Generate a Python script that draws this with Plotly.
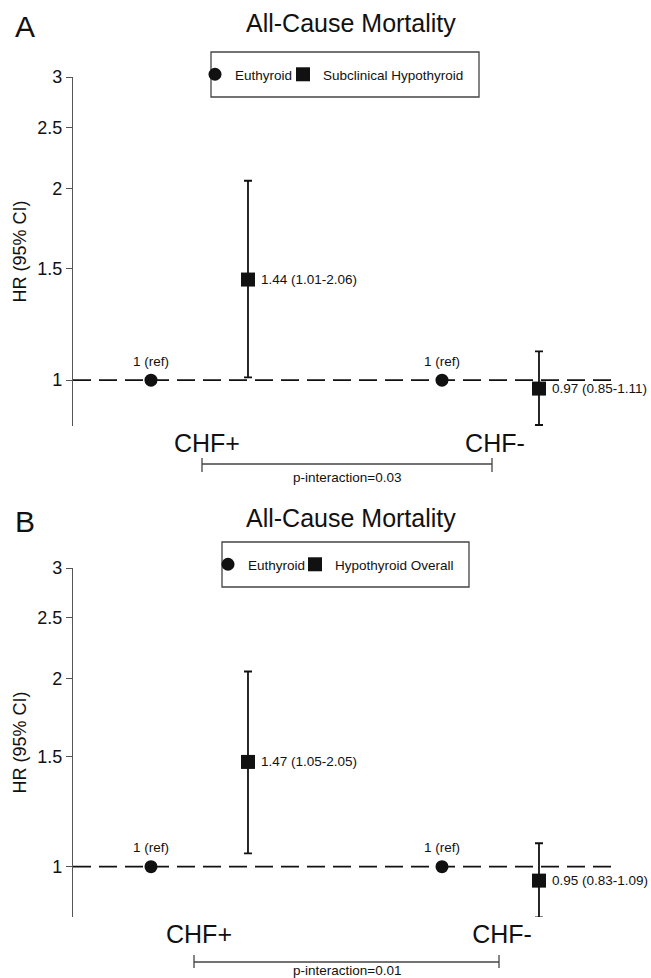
import math
import plotly.graph_objects as go

# ---------------- data ----------------
groups = ["CHF+", "CHF-"]
ref_label = "Euthyroid"
series_a = "Subclinical Hypothyroid"
series_b = "Hypothyroid Overall"
ref_hr = [1, 1]
a_hr = [1.44, 0.97]
a_lo = [1.01, 0.85]
a_hi = [2.06, 1.11]
b_hr = [1.47, 0.95]
b_lo = [1.05, 0.83]
b_hi = [2.05, 1.09]
p_interaction = ["0.03", "0.01"]
y_ticks = [1, 1.5, 2, 2.5, 3]
y_ticktext = ["1", "1.5", "2", "2.5", "3"]
panel_titles = ["All-Cause Mortality", "All-Cause Mortality"]
panel_letters = ["A", "B"]

W, H = 651, 978
FONT = "Liberation Sans, Arial, Helvetica, sans-serif"
INK = "#111111"


def px_x(p):
    return p / W


def px_y(p):
    return 1 - p / H


fig = go.Figure()

# x positions from category index
x_ref = [i * 3 + 1 for i in range(len(groups))]
x_trt = [i * 3 + 2 for i in range(len(groups))]

panels = [
    dict(name=series_a, hr=a_hr, lo=a_lo, hi=a_hi, xa="x", ya="y",
         legends=("legend", "legend3"), leg_left=(195, 283),
         top=77, bottom=426, ymin=0.847, tick=[1.577, 4.546],
         title_y=23, legend_box=(211, 52, 479, 97), bracket=(202, 492, 464, 458, 472), p_y=477),
    dict(name=series_b, hr=b_hr, lo=b_lo, hi=b_hi, xa="x2", ya="y2",
         legends=("legend2", "legend4"), leg_left=(208, 295),
         top=568, bottom=917, ymin=0.831, tick=[1.495, 4.619],
         title_y=518, legend_box=(222, 542, 469, 587), bracket=(194, 499, 962, 955, 968), p_y=970.5),
]

annotations = []
shapes = []
layout_extra = {}

for k, P in enumerate(panels):
    # reference (euthyroid) markers
    fig.add_trace(go.Scatter(
        x=x_ref, y=ref_hr, mode="markers", name=ref_label,
        marker=dict(symbol="circle", size=13, color=INK),
        xaxis=P["xa"], yaxis=P["ya"], legend=P["legends"][0], cliponaxis=False,
        hoverinfo="skip",
    ))
    # hypothyroid markers with CI
    fig.add_trace(go.Scatter(
        x=x_trt, y=P["hr"], mode="markers", name=P["name"],
        marker=dict(symbol="square", size=14, color=INK),
        error_y=dict(type="data", symmetric=False,
                     array=[h - v for h, v in zip(P["hi"], P["hr"])],
                     arrayminus=[v - l for v, l in zip(P["hr"], P["lo"])],
                     color=INK, thickness=1.8, width=4),
        xaxis=P["xa"], yaxis=P["ya"], legend=P["legends"][1], cliponaxis=False,
        hoverinfo="skip",
    ))

    # point labels
    for xr, r in zip(x_ref, ref_hr):
        annotations.append(dict(x=xr, y=math.log10(r), xref=P["xa"], yref=P["ya"],
                                text=f"{r:g} (ref)", showarrow=False, yshift=19,
                                font=dict(size=13.5, color=INK, family=FONT)))
    for xt, v, l, h in zip(x_trt, P["hr"], P["lo"], P["hi"]):
        annotations.append(dict(x=xt, y=math.log10(v), xref=P["xa"], yref=P["ya"],
                                text=f"{v:.2f} ({l:.2f}-{h:.2f})", showarrow=False,
                                xanchor="left", xshift=11,
                                font=dict(size=13.5, color=INK, family=FONT)))

    # reference line at HR = 1
    shapes.append(dict(type="line", xref=f"{P['xa']} domain", yref=P["ya"],
                       x0=0, x1=1, y0=1, y1=1,
                       line=dict(color=INK, width=1.8, dash="18px,8px")))

    # legend box
    bx0, by0, bx1, by1 = P["legend_box"]
    shapes.append(dict(type="rect", xref="paper", yref="paper",
                       x0=px_x(bx0), x1=px_x(bx1), y0=px_y(by1), y1=px_y(by0),
                       line=dict(color="#444444", width=1.3), fillcolor="rgba(0,0,0,0)"))

    # p-interaction bracket
    lx0, lx1, ly, ty0, ty1 = P["bracket"]
    for seg in [(lx0, ly, lx1, ly), (lx0, ty0, lx0, ty1), (lx1, ty0, lx1, ty1)]:
        shapes.append(dict(type="line", xref="paper", yref="paper",
                           x0=px_x(seg[0]), y0=px_y(seg[1]), x1=px_x(seg[2]), y1=px_y(seg[3]),
                           line=dict(color="#444444", width=1.3)))
    annotations.append(dict(x=px_x((lx0 + lx1) / 2), y=px_y(P["p_y"]), xref="paper", yref="paper",
                            text=f"p-interaction={p_interaction[k]}", showarrow=False,
                            xanchor="center", yanchor="middle",
                            font=dict(size=13.5, color=INK, family=FONT)))

    # panel title and letter
    annotations.append(dict(x=px_x(351), y=px_y(P["title_y"]), xref="paper", yref="paper",
                            text=panel_titles[k], showarrow=False, xanchor="center", yanchor="middle",
                            font=dict(size=25, color=INK, family=FONT)))
    annotations.append(dict(x=px_x(25), y=px_y(P["title_y"] + 3), xref="paper", yref="paper",
                            text=panel_letters[k], showarrow=False, xanchor="center", yanchor="middle",
                            font=dict(size=30, color=INK, family=FONT)))

    suffix = "" if k == 0 else "2"
    layout_extra["xaxis" + suffix] = dict(
        domain=[px_x(73), px_x(613)], range=[0.196, 5.763], automargin=False,
        anchor="y" + suffix, showline=False, showgrid=False, zeroline=False,
        ticks="", tickvals=P["tick"], ticktext=groups,
        tickfont=dict(size=25, color=INK, family=FONT), fixedrange=True,
    )
    layout_extra["yaxis" + suffix] = dict(
        domain=[px_y(P["bottom"]), px_y(P["top"])], type="log", automargin=False,
        range=[math.log10(P["ymin"]), math.log10(3)],
        anchor="x" + suffix, showline=True, linecolor="#555555", linewidth=1.3,
        showgrid=False, zeroline=False, ticks="outside", ticklen=6, tickwidth=1.3,
        tickcolor="#555555", tickvals=y_ticks, ticktext=y_ticktext,
        tickfont=dict(size=18, color=INK, family=FONT), fixedrange=True,
        title=dict(text="HR (95% CI)", font=dict(size=18, color=INK, family=FONT), standoff=5),
    )

    by_c = (by0 + by1) / 2
    for lg, lx in zip(P["legends"], P["leg_left"]):
        layout_extra[lg] = dict(
            orientation="h", x=px_x(lx), y=px_y(by_c), xanchor="left", yanchor="middle",
            bgcolor="rgba(0,0,0,0)", borderwidth=0,
            font=dict(size=13.5, color=INK, family=FONT), itemclick=False, itemdoubleclick=False,
        )

fig.update_layout(
    width=W, height=H, margin=dict(l=0, r=0, t=0, b=0, pad=0, autoexpand=False),
    paper_bgcolor="white", plot_bgcolor="white",
    font=dict(family=FONT, color=INK),
    showlegend=True, annotations=annotations, shapes=shapes,
    **layout_extra,
)

fig.write_html(
    "out.html",
    config={"displayModeBar": False, "staticPlot": False},
    post_script=(
        "document.body.style.margin='0';"
        "var gd=document.getElementById('{plot_id}');"
        "gd.style.position='absolute';gd.style.left='0px';gd.style.top='0px';"
    ),
)
